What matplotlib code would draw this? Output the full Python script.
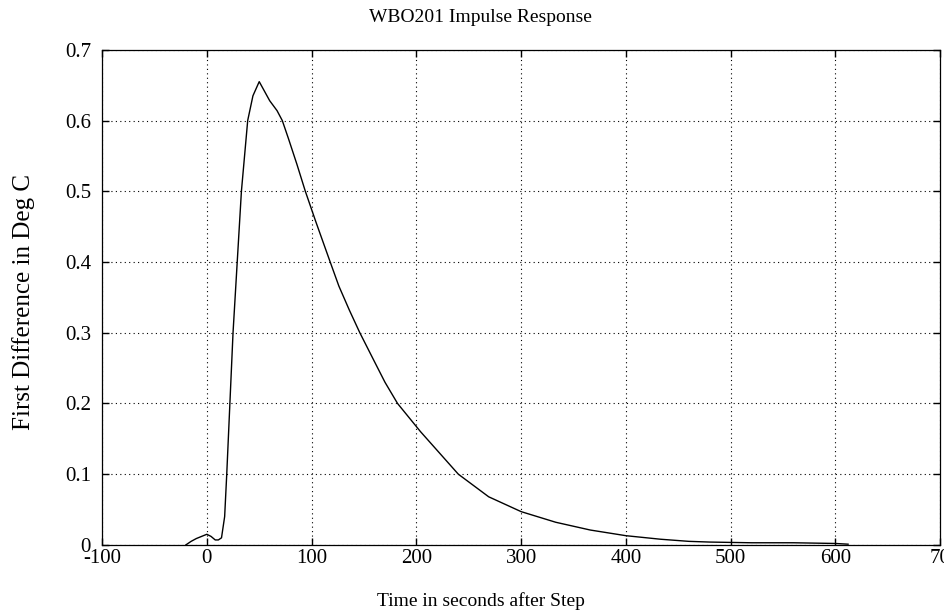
import matplotlib
matplotlib.use("Agg")
import matplotlib.pyplot as plt

time_s = [-20, -15, -10, -5, 0, 4, 8, 11, 14, 17, 19, 22, 25, 29, 33, 39, 44, 50,
          60, 67, 72, 78, 86, 94, 104, 117, 126, 136, 146, 159, 170, 182, 204, 216,
          240, 269, 300, 333, 366, 400, 433, 460, 480, 520, 560, 600, 612]
first_diff = [0.0, 0.005, 0.009, 0.012, 0.015, 0.012, 0.007, 0.007, 0.010, 0.04,
              0.10, 0.20, 0.30, 0.40, 0.50, 0.60, 0.635, 0.655,
              0.628, 0.614, 0.600, 0.574, 0.538, 0.500, 0.457, 0.403, 0.366, 0.332,
              0.300, 0.262, 0.230, 0.200, 0.160, 0.140,
              0.100, 0.068, 0.047, 0.032, 0.021, 0.013, 0.008, 0.005, 0.004, 0.003,
              0.003, 0.002, 0.001]

xticks = [-100, 0, 100, 200, 300, 400, 500, 600, 700]
xticklabels = ["-100", "0", "100", "200", "300", "400", "500", "600", "70"]
yticks = [0, 0.1, 0.2, 0.3, 0.4, 0.5, 0.6, 0.7]
yticklabels = ["0", "0.1", "0.2", "0.3", "0.4", "0.5", "0.6", "0.7"]

plt.rcParams["font.family"] = ["Liberation Serif", "DejaVu Serif"]

fig = plt.figure(figsize=(9.45, 6.15), dpi=100)
ax = fig.add_axes([0.108, 0.114, 0.887, 0.805])
ax.plot(time_s, first_diff, color="black", linewidth=1.0)
ax.set_xlim(-100, 700)
ax.set_ylim(0, 0.7)
ax.set_xticks(xticks)
ax.set_xticklabels(xticklabels)
ax.set_yticks(yticks)
ax.set_yticklabels(yticklabels)
ax.tick_params(direction="in", labelsize=15, length=5, width=1, top=True, right=True)
ax.tick_params(axis="y", pad=8)
ax.tick_params(axis="x", pad=3)
ax.grid(True, linestyle=(0, (1, 3)), color="black", linewidth=0.8)
for s in ax.spines.values():
    s.set_linewidth(0.9)
ax.set_title("WBO201 Impulse Response", fontsize=14, pad=20, x=0.452)
ax.set_xlabel("Time in seconds after Step", fontsize=14)
ax.xaxis.set_label_coords(0.452, -0.095)
ax.set_ylabel("First Difference in Deg C", fontsize=18, va="center")
ax.yaxis.set_label_coords(-0.094, 0.49)
fig.savefig("out.png", dpi=100)
